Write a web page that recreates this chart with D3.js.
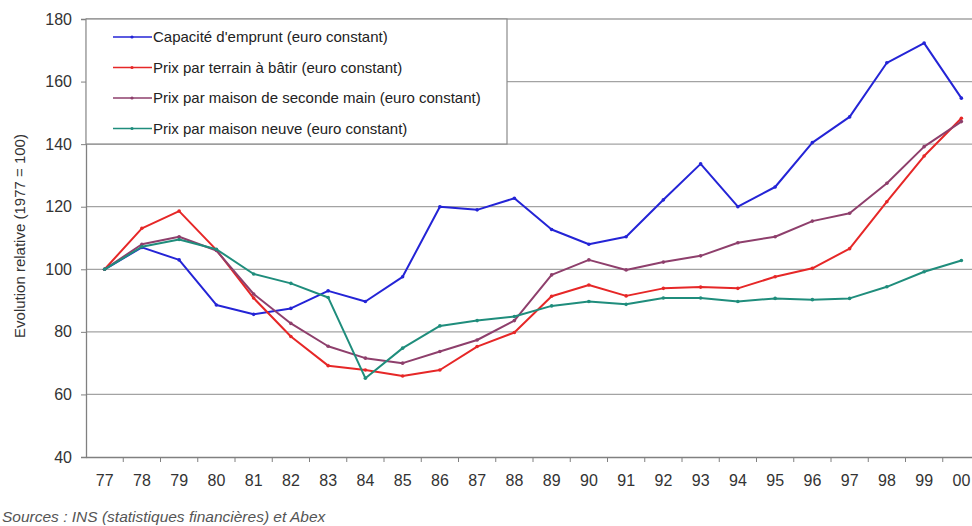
<!DOCTYPE html>
<html>
<head>
<meta charset="utf-8">
<script src="https://cdn.jsdelivr.net/npm/d3@7"></script>
<style>
  body { margin: 0; background: #fff; }
  svg { font-family: "Liberation Sans", Arial, sans-serif; }
</style>
</head>
<body>
<div id="chart"></div>
<script>
// Data
const years = ["77","78","79","80","81","82","83","84","85","86","87","88",
               "89","90","91","92","93","94","95","96","97","98","99","00"];
const capacite = [100,107,103,88.6,85.6,87.5,93.1,89.7,97.6,120,119,122.7,
                  112.7,108,110.4,122.2,133.7,120,126.3,140.5,148.7,166,172.3,154.7];
const terrain = [100,113.1,118.6,106.2,90.8,78.5,69.2,67.8,65.9,67.8,75.3,79.8,
                 91.4,95,91.5,93.9,94.3,93.9,97.6,100.3,106.6,121.6,136.2,148.3];
const secondeMain = [100,108,110.4,106,92.1,82.7,75.4,71.6,70,73.7,77.4,83.6,
                     98.2,103,99.8,102.3,104.3,108.5,110.4,115.4,117.9,127.5,139.2,147.2];
const neuve = [100,107.2,109.5,106.4,98.5,95.5,91,65.2,74.8,81.9,83.6,84.9,
               88.3,89.7,88.8,90.8,90.8,89.7,90.7,90.3,90.7,94.4,99.2,102.8];
const yTicks = [40,60,80,100,120,140,160,180];

const series = [
    { name: "Capacité d'emprunt (euro constant)", values: capacite, color: "#2424d6" },
    { name: "Prix par terrain à bâtir (euro constant)", values: terrain, color: "#e62727" },
    { name: "Prix par maison de seconde main (euro constant)", values: secondeMain, color: "#8e3f6c" },
    { name: "Prix par maison neuve (euro constant)", values: neuve, color: "#1f8d7c" }
];

const WIDTH = 972, HEIGHT = 526;
const PLOT = { left: 86, right: 980, top: 19, bottom: 457 };

const svg = d3.select("#chart").append("svg")
    .attr("width", WIDTH).attr("height", HEIGHT);

const x = d3.scaleBand().domain(years).range([PLOT.left, PLOT.right]);
const y = d3.scaleLinear().domain([40, 180]).range([PLOT.bottom, PLOT.top]);
const cx = d => x(d) + x.bandwidth() / 2;

// Gridlines
svg.append("g").selectAll("line")
    .data(yTicks.filter(t => t > 40))
    .join("line")
    .attr("x1", PLOT.left).attr("x2", WIDTH)
    .attr("y1", d => y(d)).attr("y2", d => y(d))
    .attr("stroke", "#a3a3a3").attr("stroke-width", 1.3);

// Y axis
const yAxis = svg.append("g")
    .attr("transform", `translate(${PLOT.left},0)`)
    .call(d3.axisLeft(y).tickValues(yTicks).tickSize(5).tickPadding(9));
yAxis.select(".domain").attr("stroke", "#808080").attr("stroke-width", 1.3);
yAxis.selectAll(".tick line").attr("stroke", "#808080");
yAxis.selectAll("text").attr("font-size", 16).attr("fill", "#333");

// X axis, ticks at band boundaries
const xAxis = svg.append("g")
    .attr("transform", `translate(0,${PLOT.bottom})`)
    .call(d3.axisBottom(x).tickSize(0).tickPadding(18));
xAxis.select(".domain").attr("stroke", "#808080").attr("stroke-width", 1.3);
xAxis.selectAll("text").attr("font-size", 16).attr("fill", "#333");
svg.append("g").selectAll("line")
    .data(years.slice(1))
    .join("line")
    .attr("x1", d => x(d)).attr("x2", d => x(d))
    .attr("y1", PLOT.bottom).attr("y2", PLOT.bottom + 5)
    .attr("stroke", "#808080");

// Lines
const line = d3.line().x((d, i) => cx(years[i])).y(d => y(d));
series.forEach(s => {
    svg.append("path")
        .datum(s.values)
        .attr("fill", "none")
        .attr("stroke", s.color)
        .attr("stroke-width", 2)
        .attr("stroke-linejoin", "round")
        .attr("d", line);
    svg.append("g").selectAll("circle")
        .data(s.values)
        .join("circle")
        .attr("cx", (d, i) => cx(years[i]))
        .attr("cy", d => y(d))
        .attr("r", 1.8)
        .attr("fill", s.color);
});

// Legend box
const legend = svg.append("g");
legend.append("rect")
    .attr("x", PLOT.left).attr("y", PLOT.top)
    .attr("width", 421).attr("height", 125)
    .attr("fill", "#fff").attr("stroke", "#8a8a8a").attr("stroke-width", 1.2);
series.forEach((s, i) => {
    const ly = 37 + i * 30.5;
    legend.append("line")
        .attr("x1", 113).attr("x2", 152).attr("y1", ly).attr("y2", ly)
        .attr("stroke", s.color).attr("stroke-width", 1.6);
    legend.append("circle")
        .attr("cx", 132).attr("cy", ly).attr("r", 1.6).attr("fill", s.color);
    legend.append("text")
        .attr("x", 153).attr("y", ly + 5)
        .attr("font-size", 15).attr("fill", "#222")
        .text(s.name);
});

// Y axis title
svg.append("text")
    .attr("transform", "translate(25,236) rotate(-90)")
    .attr("text-anchor", "middle")
    .attr("font-size", 15).attr("fill", "#333")
    .text("Evolution relative (1977 = 100)");

// Source note
svg.append("text")
    .attr("x", 2).attr("y", 522)
    .attr("font-size", 15.5).attr("font-style", "italic").attr("fill", "#555")
    .text("Sources : INS (statistiques financières) et Abex");
</script>
</body>
</html>
